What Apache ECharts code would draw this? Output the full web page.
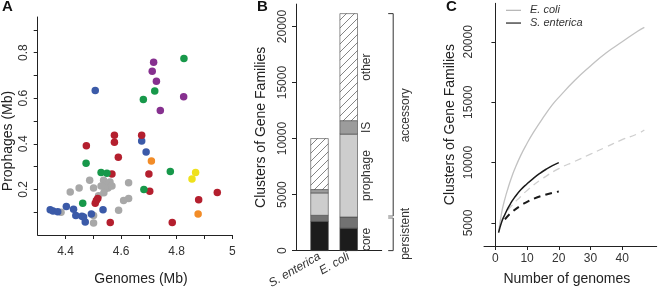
<!DOCTYPE html>
<html><head><meta charset="utf-8">
<script src="https://cdn.jsdelivr.net/npm/echarts@6/dist/echarts.min.js"></script>
<style>html,body{margin:0;padding:0;background:#fff}#c{width:658px;height:291px}</style>
</head><body><div id="c"></div>
<script>
// ---------- Panel A data: [genome size (Mb), prophage size (Mb)] ----------
const grayPts = [[4.384,0.100],[4.417,0.189],[4.449,0.206],[4.487,0.240],[4.501,0.206],[4.519,0.172],[4.537,0.240],[4.546,0.219],[4.560,0.232],[4.553,0.206],[4.542,0.202],[4.528,0.215],[4.538,0.185],[4.567,0.215],[4.627,0.229],[4.627,0.160],[4.609,0.151],[4.591,0.108],[4.501,0.085],[4.501,0.053]];
const bluePts = [[4.345,0.111],[4.355,0.105],[4.372,0.102],[4.403,0.125],[4.429,0.113],[4.437,0.085],[4.459,0.082],[4.465,0.079],[4.471,0.057],[4.493,0.092],[4.535,0.111],[4.507,0.634],[4.674,0.412],[4.690,0.364]];
const redPts = [[4.576,0.437],[4.576,0.407],[4.475,0.391],[4.590,0.341],[4.567,0.268],[4.516,0.160],[4.511,0.151],[4.507,0.139],[4.561,0.055],[4.674,0.437],[4.700,0.267],[4.703,0.192],[4.946,0.186],[4.879,0.155],[4.784,0.055]];
const greenPts = [[4.474,0.315],[4.528,0.274],[4.549,0.271],[4.462,0.139],[4.826,0.774],[4.721,0.631],[4.680,0.594],[4.777,0.278],[4.682,0.199]];
const purplePts = [[4.717,0.758],[4.712,0.718],[4.727,0.674],[4.741,0.546],[4.825,0.606]];
const orangePts = [[4.709,0.324],[4.877,0.092]];
const yellowPts = [[4.868,0.274],[4.855,0.246]];
const aXTicks = [4.4,4.5,4.6,4.7,4.8,4.9,5.0];
const aXLabels = [4.4,4.6,4.8,5.0];
const aYTicks = [0.1,0.2,0.3,0.4,0.5,0.6,0.7,0.8,0.9];
const aYLabels = [0.2,0.4,0.6,0.8];

// ---------- Panel B data (stacked segment sizes) ----------
const bCategories = ['S. enterica','E. coli'];
const coreVals = [2600, 2000];
const persistVals = [550, 1000];
const prophageVals = [2000, 7400];
const isVals = [300, 1200];
const otherVals = [4550, 9550];
const segLabels = ['core', null, 'prophage', 'IS', 'other'];
const bYTicks = [0,5000,10000,15000,20000];

// ---------- Panel C data ----------
const ecoliPanN = [1,2,3,4,5,6,8,10,12,15,18,20,25,30,35,40,45,47];
const ecoliPanV = [4200,5900,7000,7900,8700,9400,10600,11600,12500,13700,14800,15400,16800,18000,19100,20000,20900,21200];
const ecoliDashN = [2,3,5,8,10,15,20,25,30,35,40,45,47];
const ecoliDashV = [5200,5700,6400,7200,7700,8700,9500,10100,10700,11300,11900,12400,12700];
const sentPanN = [1,2,3,4,5,6,8,10,12,14,16,18,20];
const sentPanV = [4200,5100,5700,6250,6700,7100,7750,8250,8700,9100,9450,9750,10000];
const sentDashN = [3,5,8,10,12,15,18,20];
const sentDashV = [5300,5850,6450,6750,7000,7280,7500,7600];
const cXTicks = [0,10,20,30,40];
const cYTicks = [5000,10000,15000,20000];

const FONT = "'Liberation Sans', Arial, sans-serif";
const zip = (a,b) => a.map((v,i)=>[v,b[i]]);

function hatch(){
  const c=document.createElement('canvas');c.width=8;c.height=8;
  const g=c.getContext('2d');g.fillStyle='#fff';g.fillRect(0,0,8,8);
  g.strokeStyle='#666';g.lineWidth=0.8;g.beginPath();
  g.moveTo(0,8);g.lineTo(8,0);g.moveTo(-2,2);g.lineTo(2,-2);g.moveTo(6,10);g.lineTo(10,6);
  g.stroke();return c;
}

function axis(extra){
  const base = {
    axisLine:{show:true,lineStyle:{color:'#222',width:1}},
    axisTick:{show:true,length:4,lineStyle:{color:'#222'}},
    splitLine:{show:false},
    axisLabel:{color:'#333',fontSize:12,fontFamily:FONT},
    nameLocation:'middle',
    nameTextStyle:{color:'#222',fontSize:14,fontFamily:FONT}
  };
  const o = Object.assign({}, base, extra);
  o.axisTick = Object.assign({}, base.axisTick, extra.axisTick||{});
  o.axisLabel = Object.assign({}, base.axisLabel, extra.axisLabel||{});
  o.nameTextStyle = Object.assign({}, base.nameTextStyle, extra.nameTextStyle||{});
  return o;
}

const scat = (name, data, color) => ({type:'scatter', name, xAxisIndex:0, yAxisIndex:0, data, symbolSize:7.5, itemStyle:{color, opacity:1}, silent:true});

// Build stacked rows for panel B: [category position, low, high, segment index]
const bVals = [coreVals, persistVals, prophageVals, isVals, otherVals];
const bFills = ['#1c1c1c','#727272','#cdcdcd','#9c9c9c',{image:hatch(),repeat:'repeat'}];
const bRows = [];
bCategories.forEach((c,i)=>{
  let cum = 0;
  bVals.forEach((vals,s)=>{ bRows.push([i+1, cum, cum+vals[i], s]); cum += vals[i]; });
});
const BAR_W = 17.6;

const option = {
  animation:false,
  textStyle:{fontFamily:FONT},
  grid:[
    {left:37.7, top:17, width:194.6, height:222},
    {left:296, top:4.1, width:85.7, height:248.2},
    {left:484, top:3.3, width:172.7, height:250}
  ],
  legend:{left:501, top:-1, orient:'vertical', itemGap:0, itemWidth:15, itemHeight:1.3, icon:'rect',
    data:['E. coli','S. enterica'],
    textStyle:{fontStyle:'italic', fontSize:11, color:'#333', fontFamily:FONT, padding:[0,0,0,4], lineHeight:12.7}},
  xAxis:[
    axis({type:'value', gridIndex:0, min:4.3, max:5.0, name:'Genomes (Mb)', nameGap:37,
      nameTextStyle:{padding:[0,0,0,12]},
      axisTick:{customValues:aXTicks},
      axisLabel:{customValues:aXLabels, margin:11, formatter:v=> v===5?'5':v.toFixed(1)}}),
    axis({type:'value', gridIndex:1, min:0.195, max:3.13,
      axisTick:{show:false},
      axisLabel:{customValues:[1,2], margin:5, rotate:30, fontStyle:'italic', formatter:v=>bCategories[Math.round(v)-1]}}),
    axis({type:'value', gridIndex:2, min:-3.6, max:50.9, name:'Number of genomes', nameGap:26,
      nameTextStyle:{padding:[0,7,0,0]},
      axisTick:{customValues:cXTicks},
      axisLabel:{customValues:cXTicks, margin:7}})
  ],
  yAxis:[
    axis({type:'value', gridIndex:0, min:0, max:0.956, name:'Prophages (Mb)', nameGap:22.7,
      nameTextStyle:{padding:[0,30,0,0]},
      axisTick:{customValues:aYTicks},
      axisLabel:{customValues:aYLabels, rotate:90, margin:8, formatter:v=>v.toFixed(1)}}),
    axis({type:'value', gridIndex:1, min:0, max:22000, name:'Clusters of Gene Families', nameGap:28,
      axisTick:{customValues:bYTicks},
      axisLabel:{customValues:bYTicks, rotate:90, margin:7, formatter:v=>String(v)}}),
    axis({type:'value', gridIndex:2, min:3095, max:23191, name:'Clusters of Gene Families', nameGap:26.5,
      axisTick:{customValues:cYTicks},
      axisLabel:{customValues:cYTicks, rotate:90, margin:9, formatter:v=>String(v)}})
  ],
  series:[
    scat('gray', grayPts, '#a8a8a8'),
    scat('blue', bluePts, '#3b5aa8'),
    scat('red', redPts, '#b41f2e'),
    scat('green', greenPts, '#17984a'),
    scat('purple', purplePts, '#86308f'),
    scat('orange', orangePts, '#f28c28'),
    scat('yellow', yellowPts, '#efe11c'),
    {type:'custom', name:'clusters', xAxisIndex:1, yAxisIndex:1, data:bRows, encode:{x:0, y:[1,2]}, clip:false, silent:true,
      renderItem:(params, api)=>{
        const x=api.value(0), lo=api.value(1), hi=api.value(2), s=api.value(3);
        const top=api.coord([x,hi]), bot=api.coord([x,lo]);
        const children=[{type:'rect', shape:{x:top[0]-BAR_W/2, y:top[1], width:BAR_W, height:bot[1]-top[1]},
          style:{fill:bFills[s], stroke:'#444', lineWidth:0.6}}];
        if (x===2 && segLabels[s]) children.push({type:'text', x:top[0]+BAR_W/2+9.5, y:(top[1]+bot[1])/2, rotation:Math.PI/2,
          style:{text:segLabels[s], align:'center', verticalAlign:'middle', fill:'#333', fontSize:12, fontFamily:FONT}});
        return {type:'group', children};
      }},
    {type:'line', name:'E. coli', xAxisIndex:2, yAxisIndex:2, data:zip(ecoliPanN, ecoliPanV), symbol:'none', smooth:true,
      lineStyle:{color:'#c2c2c2', width:1.3}, itemStyle:{color:'#b8b8b8'}},
    {type:'line', name:'E. coli (dashed)', xAxisIndex:2, yAxisIndex:2, data:zip(ecoliDashN, ecoliDashV), symbol:'none', smooth:true,
      lineStyle:{color:'#cfcfcf', width:1.3, type:[7,5]}},
    {type:'line', name:'S. enterica', xAxisIndex:2, yAxisIndex:2, data:zip(sentPanN, sentPanV), symbol:'none', smooth:true,
      lineStyle:{color:'#1a1a1a', width:1.5}, itemStyle:{color:'#333'}},
    {type:'line', name:'S. enterica (dashed)', xAxisIndex:2, yAxisIndex:2, data:zip(sentDashN, sentDashV), symbol:'none', smooth:true,
      lineStyle:{color:'#1a1a1a', width:2, type:[7,5]}}
  ]
};

const chart = echarts.init(document.getElementById('c'), null, {renderer:'canvas'});
chart.setOption(option);

// Brackets for panel B derived from E. coli stack values
const ecoliTotal = bVals.reduce((s,a)=>s+a[1],0);
const ecoliPersist = coreVals[1] + persistVals[1];
const py = v => chart.convertToPixel({yAxisIndex:1}, v);
const bRight = 296 + 85.7;
const bx = bRight + 11.5, tx = bRight + 6.5;
const yTop = py(ecoliTotal), yMid = py(ecoliPersist), yBot = py(0);
const ln = (x1,y1,x2,y2,c) => ({type:'line', shape:{x1,y1,x2,y2}, style:{stroke:c||'#333', lineWidth:1}, silent:true});
const txt = (t,x,y,opts) => Object.assign({type:'text', x, y, style:Object.assign({text:t, fill:'#333', fontSize:12, fontFamily:FONT, align:'center', verticalAlign:'middle'}, (opts&&opts.style)||{}), silent:true}, (opts&&opts.el)||{});

chart.setOption({graphic:[
  ln(bx, yTop, bx, yMid-1), ln(tx, yTop, bx, yTop), ln(tx, yMid-1, bx, yMid-1, '#777'),
  ln(bx, yMid+1, bx, yBot), ln(tx, yMid+1, bx, yMid+1, '#777'), ln(tx, yBot, bx, yBot),
  txt('accessory', bRight+24, (yTop+yMid)/2, {el:{rotation:Math.PI/2}}),
  txt('persistent', bRight+24, (yMid+yBot)/2, {el:{rotation:Math.PI/2}}),
  txt('A', 2, 7, {style:{fontWeight:'bold', fontSize:15, align:'left', fill:'#111'}}),
  txt('B', 257, 7, {style:{fontWeight:'bold', fontSize:15, align:'left', fill:'#111'}}),
  txt('C', 446, 7, {style:{fontWeight:'bold', fontSize:15, align:'left', fill:'#111'}})
]});
</script></body></html>
